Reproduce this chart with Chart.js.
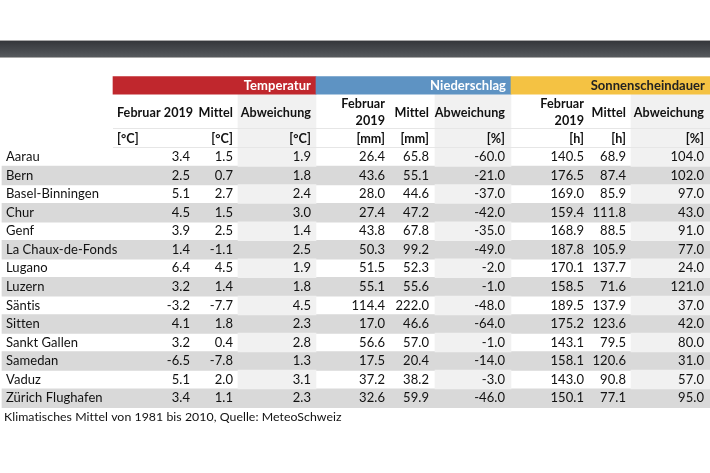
<!DOCTYPE html>
<html>
<head>
<meta charset="utf-8">
<script src="https://cdn.jsdelivr.net/npm/chart.js@4.4.1/dist/chart.umd.min.js"></script>
<style>
html,body{margin:0;padding:0;background:#fff;}
#wrap{position:relative;width:710px;height:473px;}
</style>
</head>
<body>
<div id="wrap"><canvas id="c" width="710" height="473"></canvas></div>
<script>
// ---- data ----
const stations = ['Aarau','Bern','Basel-Binningen','Chur','Genf','La Chaux-de-Fonds','Lugano','Luzern','Säntis','Sitten','Sankt Gallen','Samedan','Vaduz','Zürich Flughafen'];
const tempFeb    = [3.4, 2.5, 5.1, 4.5, 3.9, 1.4, 6.4, 3.2, -3.2, 4.1, 3.2, -6.5, 5.1, 3.4];
const tempMittel = [1.5, 0.7, 2.7, 1.5, 2.5, -1.1, 4.5, 1.4, -7.7, 1.8, 0.4, -7.8, 2.0, 1.1];
const tempAbw    = [1.9, 1.8, 2.4, 3.0, 1.4, 2.5, 1.9, 1.8, 4.5, 2.3, 2.8, 1.3, 3.1, 2.3];
const niedFeb    = [26.4, 43.6, 28.0, 27.4, 43.8, 50.3, 51.5, 55.1, 114.4, 17.0, 56.6, 17.5, 37.2, 32.6];
const niedMittel = [65.8, 55.1, 44.6, 47.2, 67.8, 99.2, 52.3, 55.6, 222.0, 46.6, 57.0, 20.4, 38.2, 59.9];
const niedAbw    = [-60.0, -21.0, -37.0, -42.0, -35.0, -49.0, -2.0, -1.0, -48.0, -64.0, -1.0, -14.0, -3.0, -46.0];
const sonFeb     = [140.5, 176.5, 169.0, 159.4, 168.9, 187.8, 170.1, 158.5, 189.5, 175.2, 143.1, 158.1, 143.0, 150.1];
const sonMittel  = [68.9, 87.4, 85.9, 111.8, 88.5, 105.9, 137.7, 71.6, 137.9, 123.6, 79.5, 120.6, 90.8, 77.1];
const sonAbw     = [104.0, 102.0, 97.0, 43.0, 91.0, 77.0, 24.0, 121.0, 37.0, 42.0, 80.0, 31.0, 57.0, 95.0];
const groups     = ['Temperatur', 'Niederschlag', 'Sonnenscheindauer'];
const units      = ['[°C]', '[°C]', '[°C]', '[mm]', '[mm]', '[%]', '[h]', '[h]', '[%]'];
const footnote   = 'Klimatisches Mittel von 1981 bis 2010, Quelle: MeteoSchweiz';

// ---- layout (x in px units of the hidden x scale, y in row units) ----
const ROW_H = 18.55;
const FIRST_ROW_CENTER = 157;
const yMin = -FIRST_ROW_CENTER / ROW_H;
const yMax = (473 - FIRST_ROW_CENTER) / ROW_H;
const toRow = p => (p - FIRST_ROW_CENTER) / ROW_H;
const groupSpans = [[113, 316], [316, 511], [511, 710]];
const groupColors = ['#c0272d', '#5e93c3', '#f4c243'];
const abwSpans = [[238, 316], [435, 511], [631, 710]];
const colRights = [190, 233, 311, 385, 429, 505, 584, 626, 704];
const valueCols = [tempFeb, tempMittel, tempAbw, niedFeb, niedMittel, niedAbw, sonFeb, sonMittel, sonAbw];
const BAND_Y = toRow(85.3), SUB_Y = toRow(113), UNIT_Y = toRow(139), FOOT_Y = toRow(417);
const HEAD_BG_Y = toRow(120.5);

const FONT = 'Lato, "Open Sans", sans-serif';

// ---- datasets built from the data ----
const grayRowData = [], lightAbwData = [];
stations.forEach((s, i) => {
  if (i % 2 === 1) grayRowData.push({y: i, x: [2, 710]});
  else abwSpans.forEach(sp => lightAbwData.push({y: i, x: sp}));
});
const headAbwData = abwSpans.map(sp => ({y: HEAD_BG_Y, x: sp}));
const bandData = groupSpans.map(sp => ({y: BAND_Y, x: sp}));

const tablePlugin = {
  id: 'table',
  beforeDatasetsDraw(chart) {
    const ctx = chart.ctx, ys = chart.scales.y, xs = chart.scales.x;
    const t = ys.getPixelForValue(toRow(41)), b = ys.getPixelForValue(toRow(57));
    const g = ctx.createLinearGradient(0, t, 0, b);
    g.addColorStop(0, '#35373b'); g.addColorStop(0.5, '#45484c'); g.addColorStop(1, '#575a5e');
    ctx.save();
    ctx.fillStyle = g;
    ctx.fillRect(xs.left, t, xs.right - xs.left, b - t);
    ctx.fillStyle = '#a8a8a8';
    ctx.fillRect(xs.left, t - 1, xs.right - xs.left, 1);
    ctx.fillRect(xs.left, b, xs.right - xs.left, 1);
    ctx.restore();
  },
  afterDatasetsDraw(chart) {
    const ctx = chart.ctx, ys = chart.scales.y, xs = chart.scales.x;
    const X = v => xs.getPixelForValue(v), Y = v => ys.getPixelForValue(v);
    ctx.save();
    ctx.textBaseline = 'middle';
    if ('letterSpacing' in ctx) ctx.letterSpacing = '0.05px';
    // faint separator lines
    ctx.fillStyle = '#e6e6e6';
    ctx.fillRect(X(113), Math.round(Y(toRow(128))), X(710) - X(113), 1);
    ctx.fillRect(X(113), Math.round(Y(toRow(147))), X(710) - X(113), 1);
    // group titles
    ctx.font = 'bold 13px ' + FONT;
    ctx.textAlign = 'right';
    groups.forEach((g, k) => {
      ctx.fillStyle = k === 2 ? '#222' : '#fff';
      ctx.fillText(g, X(groupSpans[k][1] - 5), Y(BAND_Y) + 0.5);
    });
    // sub headers
    ctx.font = 'bold 12.6px ' + FONT;
    ctx.fillStyle = '#111';
    ctx.textAlign = 'left';
    ctx.fillText('Februar 2019', X(117), Y(SUB_Y));
    ctx.textAlign = 'right';
    ctx.fillText('Mittel', X(colRights[1]), Y(SUB_Y));
    ctx.fillText('Abweichung', X(colRights[2]), Y(SUB_Y));
    [3, 6].forEach(c => {
      ctx.fillText('Februar', X(colRights[c]), Y(toRow(104)));
      ctx.fillText('2019', X(colRights[c]), Y(toRow(121)));
      ctx.fillText('Mittel', X(colRights[c + 1]), Y(SUB_Y));
      ctx.fillText('Abweichung', X(colRights[c + 2]), Y(SUB_Y));
    });
    // units
    units.forEach((u, c) => {
      if (c === 0) { ctx.textAlign = 'left'; ctx.fillText(u, X(117), Y(UNIT_Y)); }
      else { ctx.textAlign = 'right'; ctx.fillText(u, X(colRights[c]), Y(UNIT_Y)); }
    });
    // body
    ctx.font = '13px ' + FONT;
    stations.forEach((s, i) => {
      ctx.textAlign = 'left';
      ctx.fillText(s, X(6), Y(i));
      ctx.textAlign = 'right';
      valueCols.forEach((arr, c) => ctx.fillText(arr[i].toFixed(1), X(colRights[c]), Y(i)));
    });
    // footnote
    ctx.textAlign = 'left';
    ctx.font = '12.3px ' + FONT;
    ctx.fillText(footnote, X(4), Y(FOOT_Y));
    ctx.restore();
  }
};

new Chart(document.getElementById('c'), {
  type: 'bar',
  data: {
    datasets: [
      {label: 'bands', data: bandData, backgroundColor: groupColors, barThickness: 17.5, order: 1},
      {label: 'grayRows', data: grayRowData, backgroundColor: '#d9d9d9', barThickness: 18.8, order: 3},
      {label: 'abwRows', data: lightAbwData, backgroundColor: '#f1f1f1', barThickness: 18.8, order: 2},
      {label: 'abwHead', data: headAbwData, backgroundColor: '#f1f1f1', barThickness: 53, order: 2}
    ]
  },
  options: {
    indexAxis: 'y',
    responsive: false,
    animation: false,
    layout: {padding: 0},
    datasets: {bar: {grouped: false, borderWidth: 0, borderSkipped: false}},
    scales: {
      x: {type: 'linear', min: 0, max: 710, display: false, offset: false},
      y: {type: 'linear', min: yMin, max: yMax, reverse: true, display: false, offset: false}
    },
    plugins: {legend: {display: false}, tooltip: {enabled: false}}
  },
  plugins: [tablePlugin]
});
</script>
</body>
</html>
